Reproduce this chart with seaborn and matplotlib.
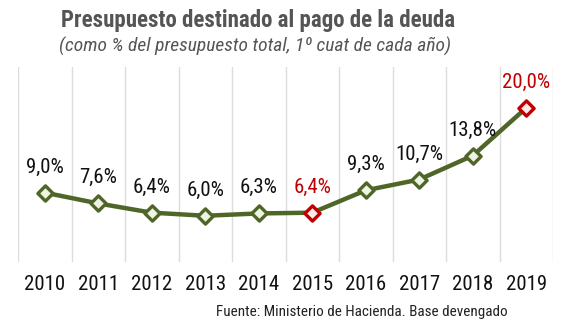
import matplotlib
matplotlib.use("Agg")
import matplotlib.pyplot as plt
from matplotlib import font_manager
import seaborn as sns
import pandas as pd

years = ["2010", "2011", "2012", "2013", "2014", "2015", "2016", "2017", "2018", "2019"]
values = [9.0, 7.6, 6.4, 6.0, 6.3, 6.4, 9.3, 10.7, 13.8, 20.0]
highlight = [False, False, False, False, False, True, False, False, False, True]
labels = ["9,0%", "7,6%", "6,4%", "6,0%", "6,3%", "6,4%", "9,3%", "10,7%", "13,8%", "20,0%"]

title = "Presupuesto destinado al pago de la deuda"
subtitle = "(como % del presupuesto total, 1º cuat de cada año)"
source = "Fuente: Ministerio de Hacienda. Base devengado"

sns.set_theme(style="white")
names = {f.name for f in font_manager.fontManager.ttflist}
fam = "Roboto"
for cand in ["Roboto Condensed", "Liberation Sans Narrow", "Roboto"]:
    if cand in names:
        fam = cand
        break
plt.rcParams["font.family"] = [fam, "DejaVu Sans"]

GREEN = "#4f6628"
RED = "#c00000"

df = pd.DataFrame({"pos": range(len(years)), "year": years, "value": values,
                   "hl": highlight, "label": labels})

fig = plt.figure(figsize=(5.67, 3.26), dpi=100)
ax = fig.add_axes([18 / 567, 64 / 326, 535 / 567, 195 / 326])

sns.lineplot(data=df, x="pos", y="value", color=GREEN, linewidth=3.2, ax=ax, zorder=2)
sns.scatterplot(data=df[~df["hl"]], x="pos", y="value", marker="D", s=60,
                color="#eef3e4", edgecolor=GREEN, linewidth=2.4, ax=ax, zorder=3)
sns.scatterplot(data=df[df["hl"]], x="pos", y="value", marker="D", s=60,
                color="#fbeaea", edgecolor=RED, linewidth=2.4, ax=ax, zorder=3)

for p, v, lab, h in zip(df["pos"], df["value"], df["label"], df["hl"]):
    ax.annotate(lab, (p, v), xytext=(0, 14.5), textcoords="offset points",
                ha="center", va="baseline", fontsize=15,
                color=RED if h else "#111111")

ax.set_xlim(-0.5, len(years) - 0.5)
ax.set_ylim(0, 25.3)
ax.set_xticks(range(len(years)))
ax.set_xticklabels(years, fontsize=15, color="#111111")
ax.set_xticks([i - 0.5 for i in range(len(years) + 1)], minor=True)
ax.set_yticks([])
ax.tick_params(axis="x", which="both", length=0, pad=9)
ax.grid(False)
ax.grid(True, which="minor", axis="x", color="#dcdcdc", linewidth=1)
ax.set_xlabel("")
ax.set_ylabel("")
for s in ax.spines.values():
    s.set_visible(False)

fig.text(258 / 567, 1 - 20 / 326, title, ha="center", va="center",
         fontsize=16.5, fontweight="bold", color="#555555")
fig.text(255 / 567, 1 - 46 / 326, subtitle, ha="center", va="center",
         fontsize=14, style="italic", color="#555555")
fig.text(508 / 567, 1 - 312 / 326, source, ha="right", va="center",
         fontsize=10.9, color="#222222")

fig.savefig("out.png", dpi=100)
